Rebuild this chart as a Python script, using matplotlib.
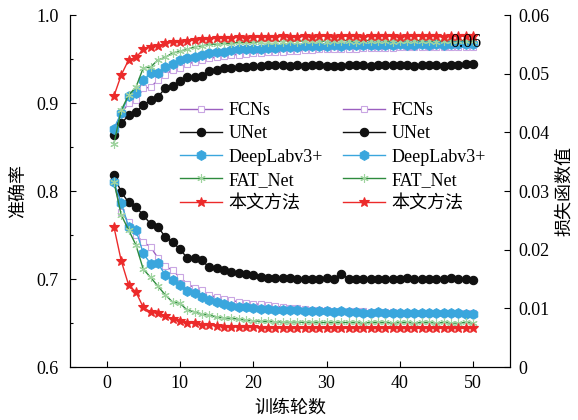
import numpy as np
import matplotlib
matplotlib.use("Agg")
from matplotlib import pyplot as plt

plt.rcParams['font.family'] = ['Liberation Serif', 'Noto Sans CJK SC']
plt.rcParams['axes.unicode_minus'] = False

epochs = list(range(1, 51))
names = ['FCNs', 'UNet', 'DeepLabv3+', 'FAT_Net', '本文方法']

acc_fcn = [0.870, 0.888, 0.900, 0.903, 0.917, 0.918, 0.926, 0.932, 0.938, 0.940,
           0.944, 0.947, 0.949, 0.951, 0.952, 0.953, 0.955, 0.955, 0.956, 0.957,
           0.957, 0.958, 0.958, 0.958, 0.959, 0.959, 0.960, 0.960, 0.961, 0.961,
           0.961, 0.962, 0.962, 0.962, 0.963, 0.963, 0.963, 0.963, 0.963, 0.964,
           0.964, 0.964, 0.964, 0.964, 0.964, 0.964, 0.964, 0.964, 0.964, 0.964]
acc_unet = [0.864, 0.877, 0.886, 0.890, 0.898, 0.903, 0.907, 0.917, 0.920, 0.925,
            0.930, 0.930, 0.931, 0.936, 0.938, 0.940, 0.940, 0.941, 0.941, 0.942,
            0.942, 0.943, 0.943, 0.943, 0.942, 0.943, 0.942, 0.943, 0.943, 0.942,
            0.942, 0.942, 0.943, 0.943, 0.943, 0.942, 0.943, 0.943, 0.943, 0.943,
            0.943, 0.942, 0.943, 0.943, 0.943, 0.942, 0.943, 0.943, 0.944, 0.944]
acc_deeplab = [0.871, 0.889, 0.908, 0.911, 0.926, 0.934, 0.934, 0.941, 0.945, 0.949,
               0.951, 0.952, 0.955, 0.957, 0.958, 0.958, 0.960, 0.961, 0.961, 0.962,
               0.962, 0.963, 0.963, 0.964, 0.964, 0.964, 0.965, 0.965, 0.965, 0.965,
               0.966, 0.965, 0.966, 0.966, 0.966, 0.966, 0.966, 0.966, 0.966, 0.967,
               0.966, 0.966, 0.967, 0.966, 0.967, 0.966, 0.967, 0.967, 0.967, 0.967]
acc_fat = [0.854, 0.892, 0.909, 0.918, 0.940, 0.941, 0.949, 0.952, 0.957, 0.959,
           0.961, 0.964, 0.965, 0.967, 0.967, 0.968, 0.968, 0.969, 0.969, 0.969,
           0.970, 0.970, 0.970, 0.970, 0.971, 0.970, 0.971, 0.971, 0.971, 0.970,
           0.971, 0.971, 0.971, 0.970, 0.971, 0.971, 0.971, 0.971, 0.970, 0.971,
           0.971, 0.971, 0.971, 0.971, 0.970, 0.971, 0.971, 0.971, 0.971, 0.971]
acc_ours = [0.908, 0.932, 0.949, 0.952, 0.961, 0.964, 0.965, 0.968, 0.969, 0.970,
            0.971, 0.972, 0.973, 0.973, 0.974, 0.974, 0.974, 0.975, 0.974, 0.975,
            0.975, 0.975, 0.975, 0.976, 0.975, 0.975, 0.976, 0.975, 0.976, 0.976,
            0.975, 0.976, 0.976, 0.976, 0.975, 0.976, 0.976, 0.976, 0.976, 0.975,
            0.976, 0.976, 0.976, 0.976, 0.976, 0.975, 0.976, 0.976, 0.976, 0.976]

loss_fcn = [0.0315, 0.0265, 0.0247, 0.0225, 0.0213, 0.0205, 0.0186, 0.0172, 0.0165, 0.0153,
            0.0142, 0.0135, 0.0131, 0.0123, 0.0119, 0.0116, 0.0114, 0.0111, 0.0109, 0.0108,
            0.0107, 0.0106, 0.0104, 0.0102, 0.0101, 0.0100, 0.0099, 0.0098, 0.0097, 0.0097,
            0.0096, 0.0096, 0.0095, 0.0095, 0.0095, 0.0094, 0.0094, 0.0094, 0.0094, 0.0093,
            0.0093, 0.0093, 0.0093, 0.0093, 0.0093, 0.0092, 0.0092, 0.0092, 0.0092, 0.0092]
loss_unet = [0.0327, 0.0298, 0.0281, 0.0273, 0.0259, 0.0244, 0.0239, 0.0222, 0.0213, 0.0201,
             0.0186, 0.0186, 0.0182, 0.0170, 0.0169, 0.0165, 0.0162, 0.0160, 0.0159, 0.0157,
             0.0153, 0.0152, 0.0152, 0.0152, 0.0152, 0.0151, 0.0151, 0.0151, 0.0151, 0.0152,
             0.0151, 0.0158, 0.0151, 0.0150, 0.0150, 0.0150, 0.0150, 0.0151, 0.0150, 0.0151,
             0.0152, 0.0150, 0.0150, 0.0151, 0.0150, 0.0151, 0.0152, 0.0150, 0.0150, 0.0149]
loss_deeplab = [0.0315, 0.0280, 0.0239, 0.0234, 0.0194, 0.0176, 0.0177, 0.0157, 0.0148, 0.0140,
                0.0130, 0.0126, 0.0119, 0.0114, 0.0111, 0.0107, 0.0104, 0.0102, 0.0102, 0.0101,
                0.0099, 0.0099, 0.0098, 0.0098, 0.0097, 0.0097, 0.0096, 0.0096, 0.0095, 0.0095,
                0.0094, 0.0095, 0.0094, 0.0094, 0.0093, 0.0093, 0.0094, 0.0093, 0.0093, 0.0092,
                0.0093, 0.0092, 0.0092, 0.0093, 0.0092, 0.0092, 0.0092, 0.0092, 0.0091, 0.0091]
loss_fat = [0.0316, 0.0259, 0.0234, 0.0208, 0.0167, 0.0153, 0.0138, 0.0123, 0.0111, 0.0109,
            0.0097, 0.0094, 0.0090, 0.0089, 0.0085, 0.0084, 0.0083, 0.0082, 0.0080, 0.0079,
            0.0078, 0.0078, 0.0077, 0.0077, 0.0077, 0.0077, 0.0076, 0.0077, 0.0076, 0.0076,
            0.0076, 0.0076, 0.0076, 0.0076, 0.0075, 0.0076, 0.0076, 0.0076, 0.0075, 0.0076,
            0.0076, 0.0075, 0.0076, 0.0076, 0.0075, 0.0076, 0.0075, 0.0075, 0.0076, 0.0075]
loss_ours = [0.0239, 0.0181, 0.0140, 0.0128, 0.0102, 0.0094, 0.0092, 0.0087, 0.0082, 0.0078,
             0.0075, 0.0075, 0.0072, 0.0072, 0.0070, 0.0069, 0.0069, 0.0068, 0.0068, 0.0068,
             0.0067, 0.0067, 0.0067, 0.0066, 0.0067, 0.0066, 0.0066, 0.0066, 0.0066, 0.0066,
             0.0066, 0.0066, 0.0066, 0.0066, 0.0066, 0.0066, 0.0066, 0.0066, 0.0066, 0.0066,
             0.0066, 0.0066, 0.0066, 0.0066, 0.0066, 0.0066, 0.0066, 0.0066, 0.0066, 0.0066]

acc = [acc_fcn, acc_unet, acc_deeplab, acc_fat, acc_ours]
loss = [loss_fcn, loss_unet, loss_deeplab, loss_fat, loss_ours]

# line color, marker, marker face, marker edge, marker size
styles = [
    ('#9b5fc0', 's', 'white', '#c9a6e3', 5),
    ('#111111', 'o', '#111111', '#111111', 6),
    ('#3aa6dd', 'h', '#3aa6dd', '#3aa6dd', 7),
    ('#2e8b3e', (6, 2, 0), '#9fd49f', '#9fd49f', 6),
    ('#ec2a2a', '*', '#ec2a2a', '#ec2a2a', 7.5),
]

fig = plt.figure(figsize=(5.78, 4.2), dpi=100)
ax = fig.add_axes([0.121, 0.126, 0.761, 0.838])
ax2 = ax.twinx()

handles = []
for vals, name, st in zip(acc, names, styles):
    h, = ax.plot(epochs, vals, color=st[0], lw=1, marker=st[1], mfc=st[2],
                 mec=st[3], ms=st[4], mew=0.8, label=name)
    handles.append(h)
for vals, name, st in zip(loss, names, styles):
    h, = ax2.plot(epochs, vals, color=st[0], lw=1, marker=st[1], mfc=st[2],
                  mec=st[3], ms=st[4], mew=0.8, label=name)
    handles.append(h)

ax.set_xlim(-5, 55)
ax.set_ylim(0.6, 1.0)
ax2.set_ylim(0, 0.06)
ax.set_xticks([0, 10, 20, 30, 40, 50])
ax.set_yticks([0.6, 0.7, 0.8, 0.9, 1.0])
ax.set_yticks([0.65, 0.75, 0.85, 0.95], minor=True)
ax.set_yticklabels(['0.6', '0.7', '0.8', '0.9', '1.0'])
ax2.set_yticks([0, 0.01, 0.02, 0.03, 0.04, 0.05, 0.06])
ax2.set_yticklabels(['0', '0.01', '0.02', '0.03', '0.04', '0.05', '0.06'])

for a in (ax, ax2):
    a.spines['top'].set_visible(False)
    a.tick_params(direction='in', labelsize=13, length=4, width=0.8)
    a.tick_params(which='minor', direction='in', length=2.5, width=0.8)
ax.tick_params(axis='y', which='both', right=False, pad=8)
ax2.tick_params(axis='y', pad=6)
ax.tick_params(axis='x', pad=6)

ax.set_xlabel('训练轮数', fontsize=13, labelpad=5)
ax.set_ylabel('准确率', fontsize=13, labelpad=7)
ax2.set_ylabel('损失函数值', fontsize=13, labelpad=5)

ax2.legend(handles=handles, ncol=2, frameon=False, fontsize=13,
           loc='upper left', bbox_to_anchor=(0.296, 0.778),
           bbox_transform=fig.transFigure, borderpad=0, handlelength=2.3,
           handletextpad=0.4, columnspacing=1.1, labelspacing=0.34)

fig.text(0.779, 0.898, '0.06', fontsize=13, ha='left', va='center')

fig.savefig('out.png', dpi=100)
